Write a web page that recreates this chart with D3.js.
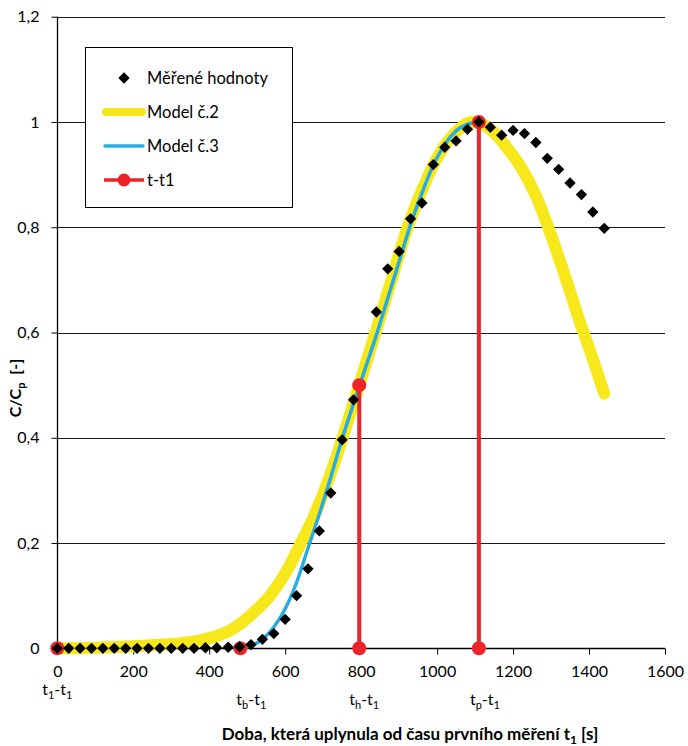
<!DOCTYPE html>
<html>
<head>
<meta charset="utf-8">
<script src="https://cdn.jsdelivr.net/npm/d3@7"></script>
<style>
  body { margin: 0; background: #fff; }
  svg text { font-family: Lato, "Open Sans", sans-serif; fill: #000; }
</style>
</head>
<body>
<svg id="chart" width="688" height="746"></svg>
<script>
// Měřené hodnoty – relativní koncentrace C/Cp v čase od prvního měření [s]
const measuredTime = [0, 30, 60, 90, 120, 150, 180, 210, 240, 270, 300, 330, 360, 390, 420, 450, 480,
  510, 540, 570, 600, 630, 660, 690, 720, 750, 780, 840, 870, 900, 930, 960, 990, 1020, 1050,
  1080, 1110, 1140, 1170, 1200, 1230, 1260, 1290, 1320, 1350, 1380, 1410, 1440];
const measuredValue = [0, 0, 0, 0, 0, 0, 0, 0, 0, 0, 0, 0, 0, 0.001, 0.001, 0.002, 0.003,
  0.007, 0.017, 0.028, 0.055, 0.100, 0.151, 0.223, 0.295, 0.396, 0.472, 0.639, 0.721, 0.754, 0.816, 0.846, 0.919, 0.952, 0.964,
  0.986, 1.000, 0.990, 0.975, 0.984, 0.978, 0.961, 0.931, 0.910, 0.884, 0.862, 0.829, 0.798];

// Model č.2
const model2Time = [0, 100, 200, 300, 370, 430, 460, 520, 560, 600, 640, 680, 720, 760, 795, 840, 880,
  920, 960, 990, 1030, 1060, 1088, 1120, 1150, 1180, 1220, 1260, 1300, 1340, 1375, 1410, 1440];
const model2Value = [0, 0.001, 0.004, 0.008, 0.014, 0.026, 0.036, 0.070, 0.100, 0.142, 0.198, 0.258, 0.332, 0.420, 0.500, 0.605, 0.700,
  0.795, 0.870, 0.918, 0.965, 0.988, 1.000, 0.995, 0.980, 0.955, 0.915, 0.860, 0.785, 0.700, 0.622, 0.550, 0.484];

// Model č.3
const model3Time = [482, 510, 540, 570, 600, 630, 660, 690, 720, 750, 780, 810, 840, 870, 900,
  930, 960, 990, 1020, 1050, 1080, 1110];
const model3Value = [0, 0.005, 0.017, 0.040, 0.075, 0.125, 0.190, 0.255, 0.325, 0.398, 0.465, 0.530, 0.595, 0.665, 0.735,
  0.805, 0.865, 0.918, 0.957, 0.983, 0.996, 1.000];

// t-t1: charakteristické časy t1, tb, th, tp a jejich úrovně
const markTime = [0, 482, 795, 1110];
const markValue = [0, 0, 0.5, 1.0];
const markLabelBase = ["t", "t", "t", "t"];
const markLabelSub = ["1", "b", "h", "p"];

const xTicks = [0, 200, 400, 600, 800, 1000, 1200, 1400, 1600];
const yTicks = [0, 0.2, 0.4, 0.6, 0.8, 1.0, 1.2];

const COLORS = { model2: "#F6E81A", model3: "#2AAAE2", mark: "#EC2328", point: "#000" };

const svg = d3.select("#chart");
const x = d3.scaleLinear().domain([0, 1600]).range([57.3, 665]);
const y = d3.scaleLinear().domain([0, 1.2]).range([648.3, 16.7]);

const loc = d3.formatLocale({ decimal: ",", thousands: "", grouping: [3], currency: ["", ""] });
const fy = loc.format(".1~f");
const fx = loc.format("d");

// horizontal gridlines
svg.append("g").selectAll("line").data(yTicks.filter(d => d > 0)).join("line")
  .attr("x1", x(0)).attr("x2", x(1600))
  .attr("y1", d => Math.round(y(d)) + 0.5).attr("y2", d => Math.round(y(d)) + 0.5)
  .attr("stroke", "#1a1a1a").attr("stroke-width", 1);

// axes
const yAxis = d3.axisLeft(y).tickValues(yTicks).tickFormat(fy).tickSize(6).tickPadding(12);
const xAxis = d3.axisBottom(x).tickValues(xTicks).tickFormat(fx).tickSize(6).tickPadding(11);

const gy = svg.append("g").attr("transform", `translate(${Math.round(x(0)) + 0.5},0)`).call(yAxis);
const gx = svg.append("g").attr("transform", `translate(0,${Math.round(y(0)) + 0.5})`).call(xAxis);
[gx, gy].forEach(g => {
  g.select(".domain").attr("stroke", "#000").attr("stroke-width", 1.3);
  g.selectAll(".tick line").attr("stroke", "#000");
  g.selectAll("text").style("font-size", "16px").attr("fill", "#000");
  g.attr("font-family", null);
});
gx.select(".domain").attr("d", `M${x(0)},0H${x(1600)}`);
gy.select(".domain").attr("d", `M0,${y(1.2)}V${y(0)}`);

// Model č.2
const line2 = d3.line().x((d, i) => x(model2Time[i])).y(d => y(d)).curve(d3.curveMonotoneX);
svg.append("path").datum(model2Value).attr("d", line2)
  .attr("fill", "none").attr("stroke", COLORS.model2).attr("stroke-width", 12)
  .attr("stroke-linecap", "round").attr("stroke-linejoin", "round");

// Model č.3
const line3 = d3.line().x((d, i) => x(model3Time[i])).y(d => y(d)).curve(d3.curveMonotoneX);
svg.append("path").datum(model3Value).attr("d", line3)
  .attr("fill", "none").attr("stroke", COLORS.model3).attr("stroke-width", 3.5)
  .attr("stroke-linecap", "round");

// t-t1 vertical lines and markers
const gm = svg.append("g");
gm.selectAll("line").data(markTime).join("line")
  .attr("x1", d => x(d)).attr("x2", d => x(d))
  .attr("y1", y(0)).attr("y2", (d, i) => y(markValue[i]))
  .attr("stroke", COLORS.mark).attr("stroke-width", 4);
const markPts = [];
markTime.forEach((t, i) => {
  markPts.push([t, 0]);
  if (markValue[i] > 0) markPts.push([t, markValue[i]]);
});
gm.selectAll("circle").data(markPts).join("circle")
  .attr("cx", d => x(d[0])).attr("cy", d => y(d[1])).attr("r", 7)
  .attr("fill", COLORS.mark);

// measured points (diamonds)
const diamond = d3.symbol().type(d3.symbolSquare).size(64);
svg.append("g").selectAll("path").data(measuredValue).join("path")
  .attr("d", diamond)
  .attr("transform", (d, i) => `translate(${x(measuredTime[i])},${y(d)}) rotate(45)`)
  .attr("fill", COLORS.point);

// labels under the time axis
const labelDx = [0, 11, 5, 6];
const labelY = [695, 705, 705, 705];
const lab = svg.append("g").selectAll("text").data(markTime).join("text")
  .attr("x", (d, i) => x(d) + labelDx[i]).attr("y", (d, i) => labelY[i])
  .attr("text-anchor", "middle").style("font-size", "16px");
lab.append("tspan").text((d, i) => markLabelBase[i]);
lab.append("tspan").attr("dy", 4).style("font-size", "11px").text((d, i) => markLabelSub[i]);
lab.append("tspan").attr("dy", -4).text("-t");
lab.append("tspan").attr("dy", 4).style("font-size", "11px").text("1");

// axis titles
const xt = svg.append("text").attr("x", 410).attr("y", 740).attr("text-anchor", "middle")
  .style("font-size", "17px").style("font-weight", "bold");
xt.append("tspan").text("Doba, která uplynula od času prvního měření t");
xt.append("tspan").attr("dy", 4).style("font-size", "12px").text("1");
xt.append("tspan").attr("dy", -4).text(" [s]");

const yt = svg.append("text").attr("transform", "translate(21,388) rotate(-90)")
  .attr("text-anchor", "middle").style("font-size", "16px").style("font-weight", "bold");
yt.append("tspan").text("C/C");
yt.append("tspan").attr("dy", 4).style("font-size", "11px").text("p");
yt.append("tspan").attr("dy", -4).text("  [-]").attr("xml:space", "preserve");

// legend
const lg = svg.append("g");
lg.append("rect").attr("x", 85.5).attr("y", 47.5).attr("width", 207).attr("height", 160)
  .attr("fill", "#fff").attr("stroke", "#000").attr("stroke-width", 1);
const legendItems = ["Měřené hodnoty", "Model č.2", "Model č.3", "t-t1"];
const legendY = [78, 112, 146, 180];
lg.selectAll("text").data(legendItems).join("text")
  .attr("x", 147).attr("y", (d, i) => legendY[i]).attr("dy", "0.35em")
  .style("font-size", "16.5px").text(d => d);
lg.append("path").attr("d", diamond).attr("transform", `translate(124,${legendY[0]}) rotate(45)`).attr("fill", COLORS.point);
lg.append("line").attr("x1", 106).attr("x2", 142).attr("y1", legendY[1]).attr("y2", legendY[1])
  .attr("stroke", COLORS.model2).attr("stroke-width", 8).attr("stroke-linecap", "round");
lg.append("line").attr("x1", 105).attr("x2", 143).attr("y1", legendY[2]).attr("y2", legendY[2])
  .attr("stroke", COLORS.model3).attr("stroke-width", 3.5).attr("stroke-linecap", "round");
lg.append("line").attr("x1", 104).attr("x2", 144).attr("y1", legendY[3]).attr("y2", legendY[3])
  .attr("stroke", COLORS.mark).attr("stroke-width", 3.5);
lg.append("circle").attr("cx", 124).attr("cy", legendY[3]).attr("r", 6.5).attr("fill", COLORS.mark);
</script>
</body>
</html>
